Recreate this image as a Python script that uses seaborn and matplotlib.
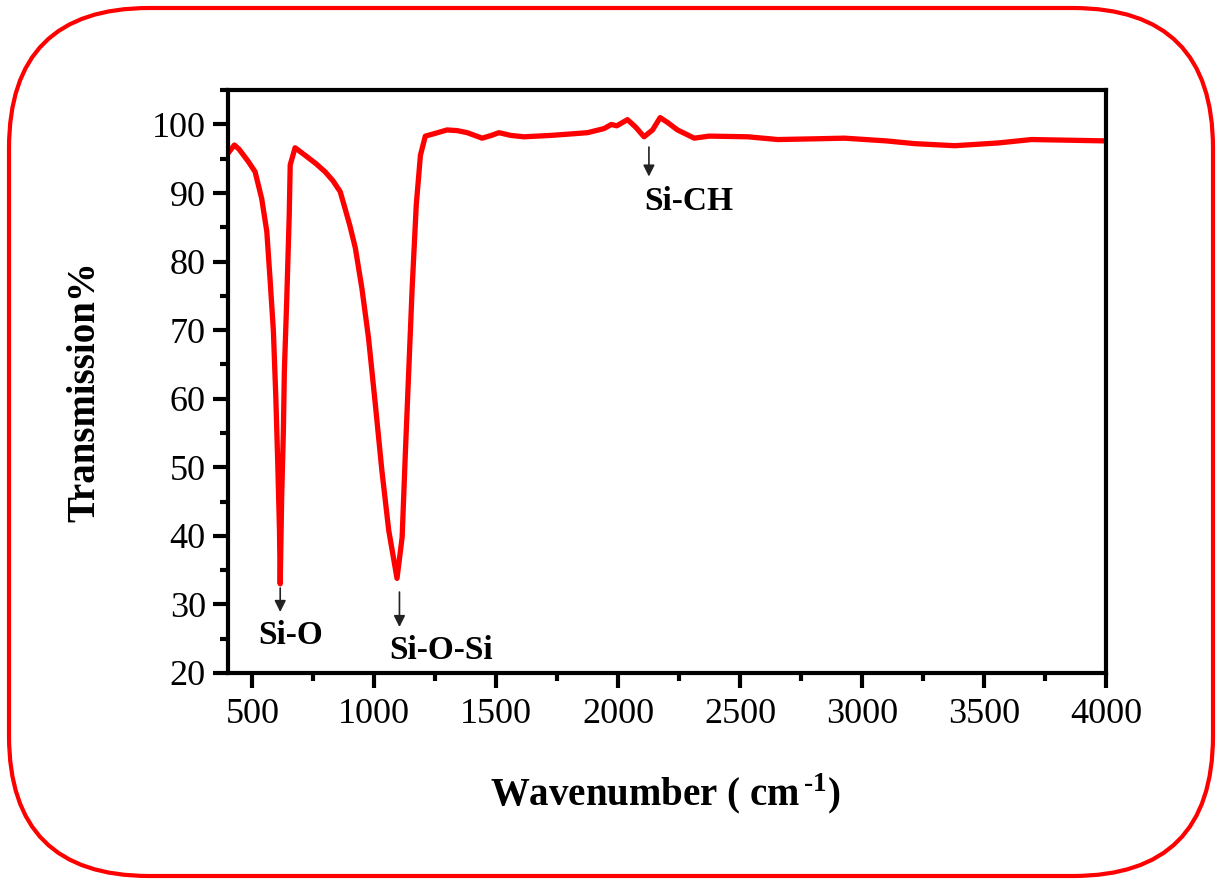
import numpy as np
import pandas as pd
import matplotlib
matplotlib.use("Agg")
import matplotlib.pyplot as plt
from matplotlib.patches import FancyBboxPatch
from matplotlib.ticker import MultipleLocator
import seaborn as sns


# -----------------------
# Data
# -----------------------

wavenumber = [400, 426, 445, 483, 511, 538, 559, 573, 586, 596, 604, 611, 614,
              620, 627, 631, 641, 651, 655, 675, 716, 760, 798, 830, 860, 881,
              900, 922, 949, 976, 1004, 1031, 1059, 1093, 1114, 1127, 1141, 1155,
              1172, 1189, 1209, 1250, 1298, 1340, 1381, 1442, 1480, 1511, 1560,
              1613, 1723, 1800, 1874, 1942, 1972, 1994, 2038, 2072, 2106, 2141,
              2172, 2202, 2243, 2312, 2373, 2531, 2654, 2800, 2928, 3100, 3216,
              3380, 3558, 3695, 3850, 4000]

transmission = [95.8, 97.0, 96.4, 94.6, 93.1, 89.2, 84.4, 77.1, 69.9, 60.2, 50.5,
                40.8, 33.0, 45.6, 55.3, 64.0, 74.7, 86.8, 94.1, 96.6, 95.5, 94.3,
                93.1, 91.8, 90.2, 87.6, 85.2, 82.0, 76.1, 68.9, 59.2, 49.5, 40.8,
                33.8, 39.8, 51.9, 64.0, 76.1, 88.3, 95.5, 98.3, 98.7, 99.2, 99.1,
                98.8, 98.0, 98.4, 98.8, 98.4, 98.2, 98.4, 98.6, 98.8, 99.4, 100.0,
                99.8, 100.7, 99.6, 98.2, 99.2, 101.0, 100.3, 99.2, 98.0, 98.3,
                98.2, 97.8, 97.9, 98.0, 97.6, 97.2, 96.9, 97.3, 97.8, 97.7, 97.6]

# peak labels: name, arrow wavenumber, arrow start/end, label position
peak_names = ["Si-O", "Si-O-Si", "Si-CH"]
peak_x = [614, 1103, 2126]
arrow_from = [32.4, 31.8, 96.7]
arrow_to = [28.9, 26.7, 92.4]
label_x = [655, 1275, 2290]
label_y = [25.5, 23.3, 88.8]

df = pd.DataFrame({"Wavenumber": wavenumber, "Transmission": transmission})


# -----------------------
# Style
# -----------------------

sns.set_style("ticks")
plt.rcParams["font.family"] = ["Liberation Serif", "DejaVu Serif"]
plt.rcParams["mathtext.fontset"] = "custom"
plt.rcParams["mathtext.rm"] = "Liberation Serif:bold"
plt.rcParams["mathtext.bf"] = "Liberation Serif:bold"
plt.rcParams["text.color"] = "black"

fig = plt.figure(figsize=(12.22, 8.84), dpi=100)

# rounded red frame round the whole picture
frame_ax = fig.add_axes([0, 0, 1, 1])
frame_ax.set_xlim(0, 1222)
frame_ax.set_ylim(0, 884)
frame_ax.axis("off")
frame_ax.add_patch(FancyBboxPatch(
    (9, 8), 1204, 868,
    boxstyle="round,pad=0,rounding_size=140",
    fill=False, edgecolor="red", linewidth=3
))

ax = fig.add_axes([0.1866, 0.2387, 0.7184, 0.6593])


# -----------------------
# Spectrum
# -----------------------

sns.lineplot(
    data=df,
    x="Wavenumber",
    y="Transmission",
    ax=ax,
    color="red",
    linewidth=3.8,
    sort=False
)

ax.set_xlim(400, 4000)
ax.set_ylim(20, 105)

ax.xaxis.set_major_locator(MultipleLocator(500))
ax.xaxis.set_minor_locator(MultipleLocator(250))
ax.yaxis.set_major_locator(MultipleLocator(10))
ax.yaxis.set_minor_locator(MultipleLocator(5))

ax.tick_params(which="major", direction="out", length=11, width=3,
               labelsize=26, color="black", labelcolor="black")
ax.tick_params(which="minor", direction="out", length=6, width=3,
               color="black")
ax.tick_params(axis="x", pad=7)
ax.tick_params(axis="y", pad=5)

for spine in ax.spines.values():
    spine.set_linewidth(3)
    spine.set_color("black")


# -----------------------
# Peak annotations
# -----------------------

for name, px, y0, y1, tx, ty in zip(peak_names, peak_x, arrow_from, arrow_to,
                                     label_x, label_y):
    ax.annotate(
        "",
        xy=(px, y1),
        xytext=(px, y0),
        arrowprops=dict(arrowstyle="-|>", color="#222222", lw=1.2,
                        mutation_scale=17, shrinkA=0, shrinkB=0)
    )
    ax.text(tx, ty, name, ha="center", va="center",
            fontsize=24, fontweight="bold", color="black")


# -----------------------
# Axis labels
# -----------------------

ax.set_xlabel(r"Wavenumber ( cm$^{\,\text{-1}}$)", fontsize=28,
              fontweight="bold", color="black")
ax.xaxis.set_label_coords(0.498, -0.209)
ax.xaxis.label.set_va("center")

ax.set_ylabel("Transmission%", fontsize=28, fontweight="bold", color="black")
ax.yaxis.set_label_coords(-0.163, 0.482)
ax.yaxis.label.set_va("center")

fig.savefig("out.png", dpi=100)
